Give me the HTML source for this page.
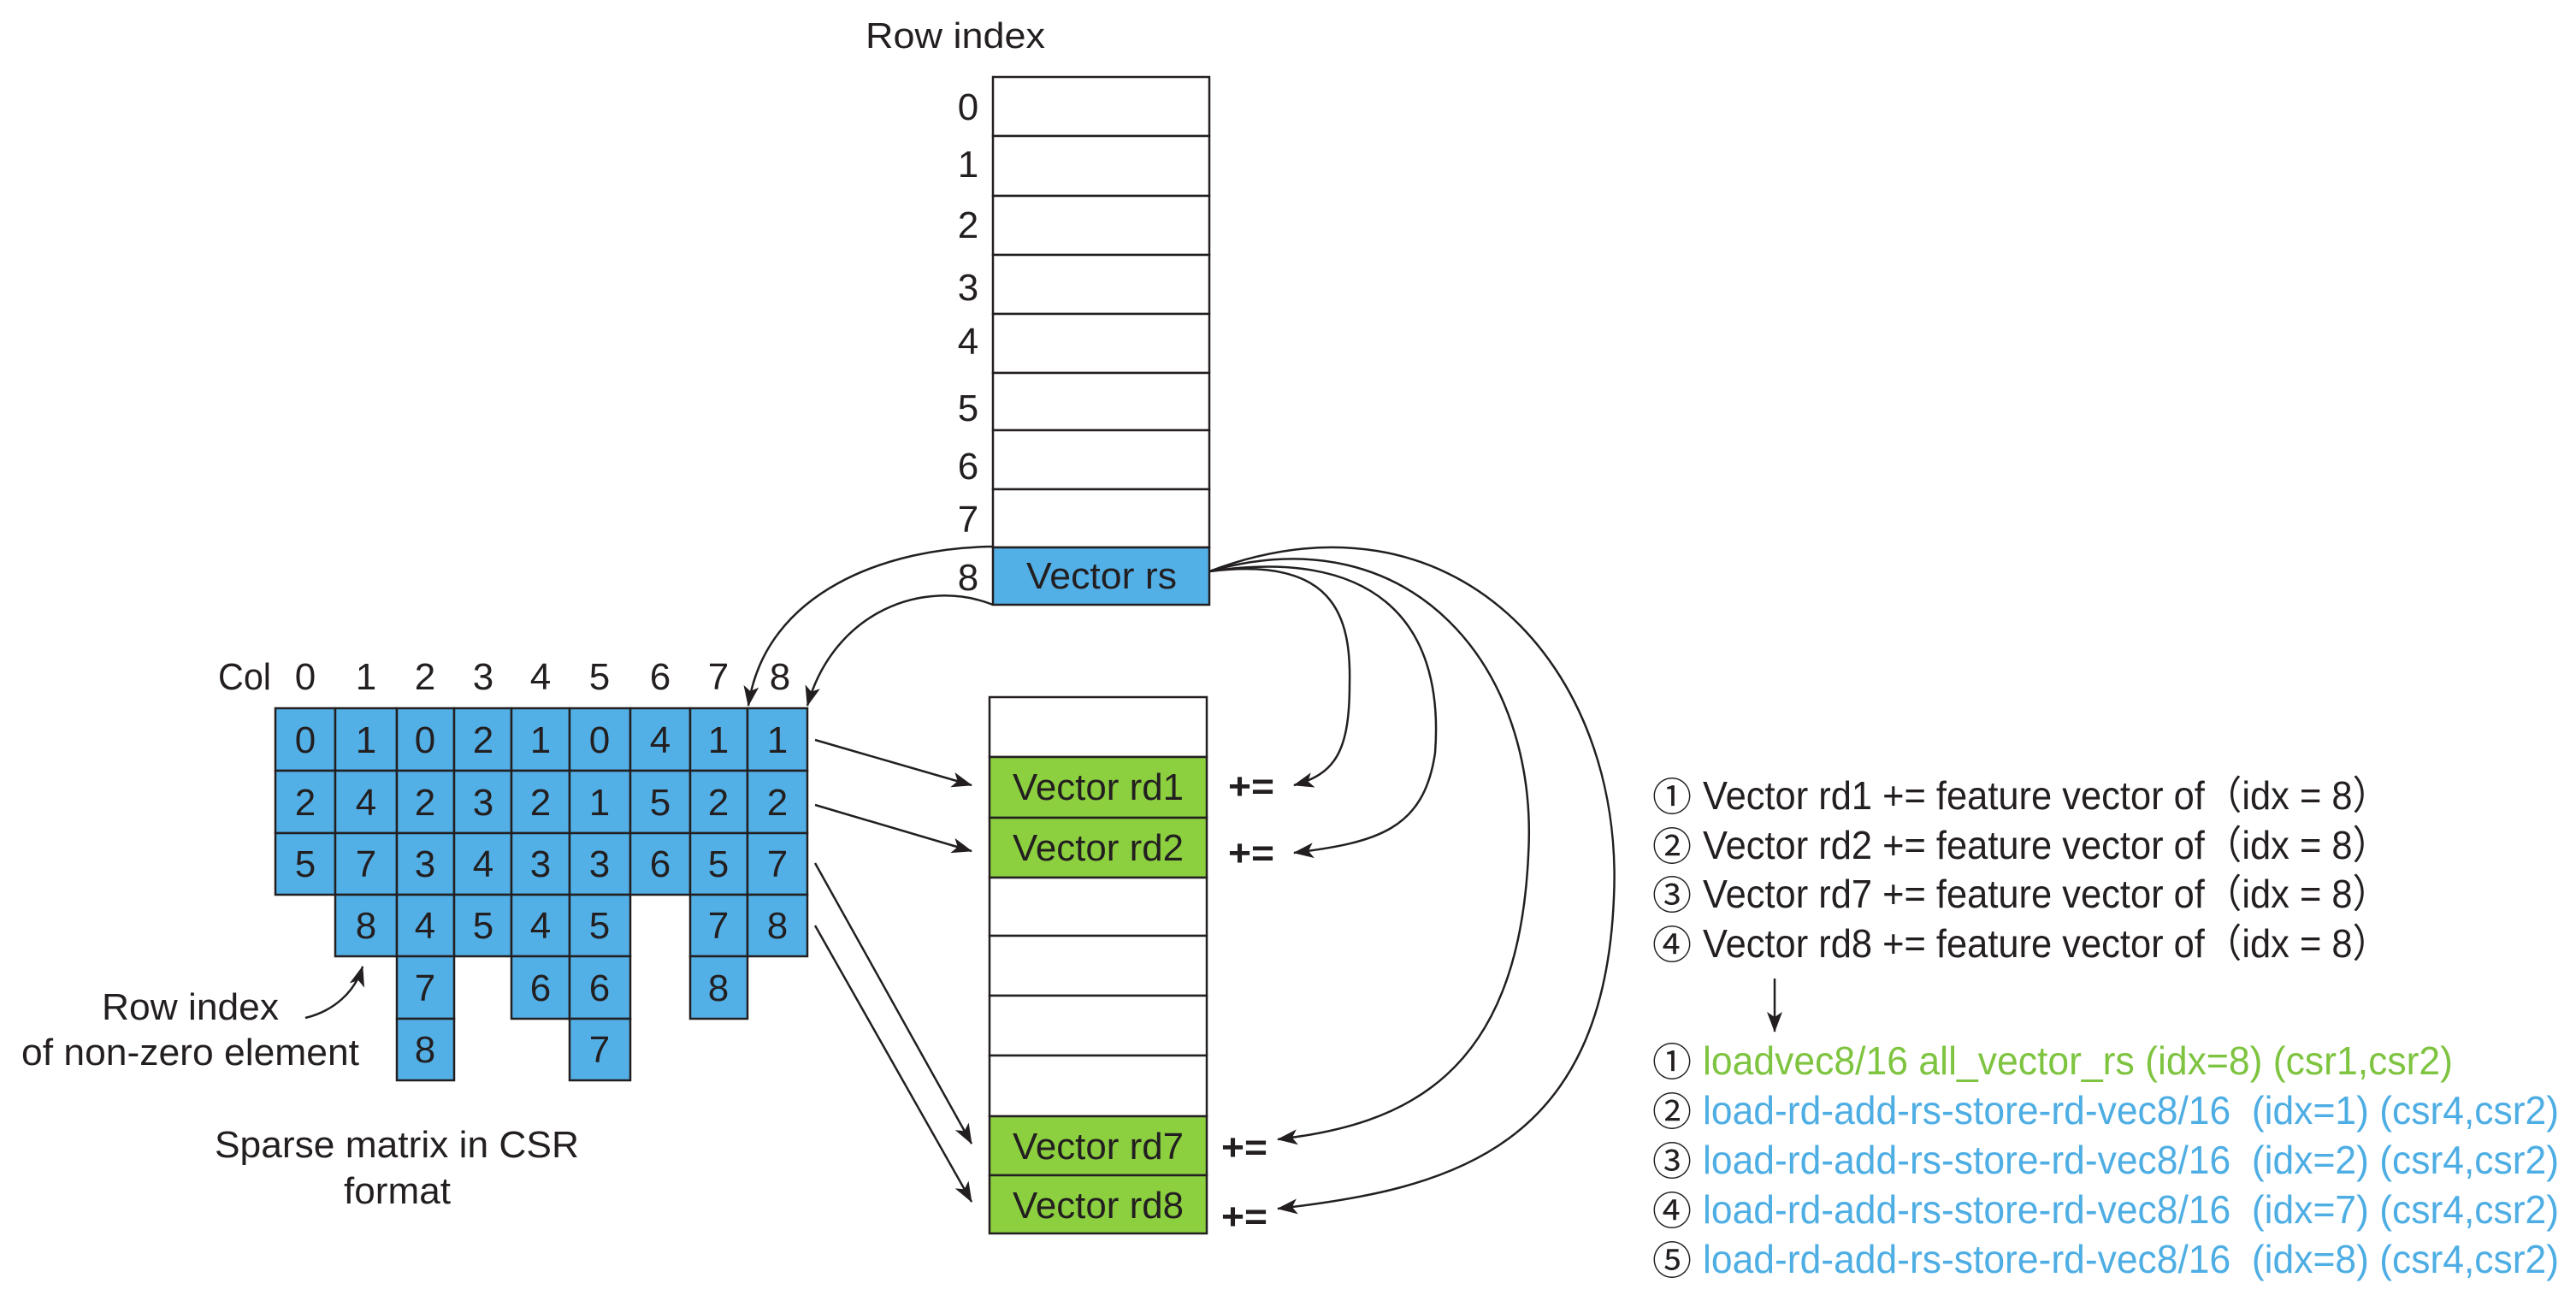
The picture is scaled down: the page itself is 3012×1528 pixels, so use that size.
<!DOCTYPE html>
<html><head><meta charset="utf-8"><style>html,body{margin:0;padding:0;background:#fff}svg{display:block}</style></head>
<body>
<svg width="3012" height="1528" viewBox="0 0 3012 1528" xmlns="http://www.w3.org/2000/svg" font-family="Liberation Sans, Arial, sans-serif" fill="#231f20">
<defs>
<marker id="ah" viewBox="0 0 24 18" refX="23" refY="9" markerWidth="24" markerHeight="18" markerUnits="userSpaceOnUse" orient="auto">
<path d="M0,0 L24,9 L0,18 L6,9 Z" fill="#231f20"/>
</marker>
</defs>

<!-- Row index table -->
<text x="1012" y="56" font-size="42" textLength="210" lengthAdjust="spacingAndGlyphs">Row index</text>
<g stroke="#231f20" stroke-width="2.5" fill="#fff">
<rect x="1161" y="90" width="253" height="69"/>
<rect x="1161" y="159" width="253" height="70"/>
<rect x="1161" y="229" width="253" height="69"/>
<rect x="1161" y="298" width="253" height="69"/>
<rect x="1161" y="367" width="253" height="69"/>
<rect x="1161" y="436" width="253" height="67"/>
<rect x="1161" y="503" width="253" height="69"/>
<rect x="1161" y="572" width="253" height="68"/>
<rect x="1161" y="640" width="253" height="67" fill="#52b0e6"/>
</g>
<g font-size="44" text-anchor="middle">
<text x="1132" y="140">0</text><text x="1132" y="207">1</text><text x="1132" y="278">2</text>
<text x="1132" y="351">3</text><text x="1132" y="414">4</text><text x="1132" y="492">5</text>
<text x="1132" y="560">6</text><text x="1132" y="622">7</text><text x="1132" y="690">8</text>
</g>
<text x="1288" y="688" font-size="44" text-anchor="middle" textLength="176" lengthAdjust="spacingAndGlyphs">Vector rs</text>

<!-- Lower table -->
<g stroke="#231f20" stroke-width="2.5" fill="#fff">
<rect x="1157" y="815" width="254" height="70"/>
<rect x="1157" y="885" width="254" height="71" fill="#8cd040"/>
<rect x="1157" y="956" width="254" height="70" fill="#8cd040"/>
<rect x="1157" y="1026" width="254" height="68"/>
<rect x="1157" y="1094" width="254" height="70"/>
<rect x="1157" y="1164" width="254" height="70"/>
<rect x="1157" y="1234" width="254" height="71"/>
<rect x="1157" y="1305" width="254" height="69" fill="#8cd040"/>
<rect x="1157" y="1374" width="254" height="68" fill="#8cd040"/>
</g>
<g font-size="44" text-anchor="middle">
<text x="1284" y="935" textLength="200" lengthAdjust="spacingAndGlyphs">Vector rd1</text>
<text x="1284" y="1006" textLength="200" lengthAdjust="spacingAndGlyphs">Vector rd2</text>
<text x="1284" y="1355" textLength="200" lengthAdjust="spacingAndGlyphs">Vector rd7</text>
<text x="1284" y="1424" textLength="200" lengthAdjust="spacingAndGlyphs">Vector rd8</text>
</g>
<g font-size="44" font-weight="bold">
<text x="1436" y="934" textLength="54" lengthAdjust="spacingAndGlyphs">+=</text>
<text x="1436" y="1012" textLength="54" lengthAdjust="spacingAndGlyphs">+=</text>
<text x="1428" y="1356" textLength="54" lengthAdjust="spacingAndGlyphs">+=</text>
<text x="1428" y="1437" textLength="54" lengthAdjust="spacingAndGlyphs">+=</text>
</g>

<!-- Matrix -->
<text x="255" y="806" font-size="44" textLength="62" lengthAdjust="spacingAndGlyphs">Col</text>
<g font-size="44" text-anchor="middle">
<text x="357" y="806">0</text><text x="428" y="806">1</text><text x="497" y="806">2</text>
<text x="565" y="806">3</text><text x="632" y="806">4</text><text x="701" y="806">5</text>
<text x="772" y="806">6</text><text x="840" y="806">7</text><text x="912" y="806">8</text>
</g>
<g stroke="#231f20" stroke-width="2.5" fill="#52b0e6">
<rect x="322" y="828" width="70" height="73"/><rect x="392" y="828" width="72" height="73"/><rect x="464" y="828" width="67" height="73"/><rect x="531" y="828" width="67" height="73"/><rect x="598" y="828" width="68" height="73"/><rect x="666" y="828" width="71" height="73"/><rect x="737" y="828" width="70" height="73"/><rect x="807" y="828" width="67" height="73"/><rect x="874" y="828" width="70" height="73"/>
<rect x="322" y="901" width="70" height="73"/><rect x="392" y="901" width="72" height="73"/><rect x="464" y="901" width="67" height="73"/><rect x="531" y="901" width="67" height="73"/><rect x="598" y="901" width="68" height="73"/><rect x="666" y="901" width="71" height="73"/><rect x="737" y="901" width="70" height="73"/><rect x="807" y="901" width="67" height="73"/><rect x="874" y="901" width="70" height="73"/>
<rect x="322" y="974" width="70" height="72"/><rect x="392" y="974" width="72" height="72"/><rect x="464" y="974" width="67" height="72"/><rect x="531" y="974" width="67" height="72"/><rect x="598" y="974" width="68" height="72"/><rect x="666" y="974" width="71" height="72"/><rect x="737" y="974" width="70" height="72"/><rect x="807" y="974" width="67" height="72"/><rect x="874" y="974" width="70" height="72"/>
<rect x="392" y="1046" width="72" height="72"/><rect x="464" y="1046" width="67" height="72"/><rect x="531" y="1046" width="67" height="72"/><rect x="598" y="1046" width="68" height="72"/><rect x="666" y="1046" width="71" height="72"/><rect x="807" y="1046" width="67" height="72"/><rect x="874" y="1046" width="70" height="72"/>
<rect x="464" y="1118" width="67" height="73"/><rect x="598" y="1118" width="68" height="73"/><rect x="666" y="1118" width="71" height="73"/><rect x="807" y="1118" width="67" height="73"/>
<rect x="464" y="1191" width="67" height="72"/><rect x="666" y="1191" width="71" height="72"/>
</g>
<g font-size="44" text-anchor="middle">
<text x="357" y="880">0</text><text x="428" y="880">1</text><text x="497" y="880">0</text><text x="565" y="880">2</text><text x="632" y="880">1</text><text x="701" y="880">0</text><text x="772" y="880">4</text><text x="840" y="880">1</text><text x="909" y="880">1</text>
<text x="357" y="953">2</text><text x="428" y="953">4</text><text x="497" y="953">2</text><text x="565" y="953">3</text><text x="632" y="953">2</text><text x="701" y="953">1</text><text x="772" y="953">5</text><text x="840" y="953">2</text><text x="909" y="953">2</text>
<text x="357" y="1025">5</text><text x="428" y="1025">7</text><text x="497" y="1025">3</text><text x="565" y="1025">4</text><text x="632" y="1025">3</text><text x="701" y="1025">3</text><text x="772" y="1025">6</text><text x="840" y="1025">5</text><text x="909" y="1025">7</text>
<text x="428" y="1097">8</text><text x="497" y="1097">4</text><text x="565" y="1097">5</text><text x="632" y="1097">4</text><text x="701" y="1097">5</text><text x="840" y="1097">7</text><text x="909" y="1097">8</text>
<text x="497" y="1170">7</text><text x="632" y="1170">6</text><text x="701" y="1170">6</text><text x="840" y="1170">8</text>
<text x="497" y="1242">8</text><text x="701" y="1242">7</text>
</g>

<!-- left labels -->
<text x="119" y="1192" font-size="44" textLength="207" lengthAdjust="spacingAndGlyphs">Row index</text>
<text x="25" y="1245" font-size="44" textLength="395" lengthAdjust="spacingAndGlyphs">of non-zero element</text>
<text x="251" y="1353" font-size="44" textLength="426" lengthAdjust="spacingAndGlyphs">Sparse matrix in CSR</text>
<text x="402" y="1407" font-size="44" textLength="125" lengthAdjust="spacingAndGlyphs">format</text>

<!-- connectors -->
<g stroke="#231f20" stroke-width="2.5" fill="none" marker-end="url(#ah)">
<path d="M357,1190 C390,1182 415,1160 424,1130"/>
<path d="M1161,639 C1040,640 895,690 875,825"/>
<path d="M1161,707 C1080,675 975,715 944,825"/>
<path d="M953,865 L1136,918"/>
<path d="M953,941 L1136,995"/>
<path d="M953,1009 L1136,1337"/>
<path d="M953,1082 L1136,1405"/>
<path d="M1414,668 C1560,650 1580,720 1578,800 C1578,880 1560,905 1513,918"/>
<path d="M1414,668 C1600,640 1690,720 1678,880 C1665,970 1610,985 1513,997"/>
<path d="M1414,668 C1650,600 1800,780 1787,1000 C1775,1260 1640,1315 1494,1332"/>
<path d="M1414,668 C1700,560 1900,780 1887,1050 C1875,1340 1700,1390 1494,1413"/>
<path d="M2075,1144 L2075,1206"/>
</g>

<!-- right text -->
<g font-family="Noto Sans CJK SC, DejaVu Sans, sans-serif" font-size="46">
<text x="1932" y="948">①</text><text x="1932" y="1006">②</text><text x="1932" y="1063">③</text><text x="1932" y="1121">④</text>
<text x="1932" y="1258">①</text><text x="1932" y="1316">②</text><text x="1932" y="1374">③</text><text x="1932" y="1432">④</text><text x="1932" y="1490">⑤</text>
</g>
<g font-size="46">
<text x="1991" y="946" textLength="803" lengthAdjust="spacingAndGlyphs">Vector rd1 += feature vector of（idx = 8）</text>
<text x="1991" y="1004" textLength="803" lengthAdjust="spacingAndGlyphs">Vector rd2 += feature vector of（idx = 8）</text>
<text x="1991" y="1061" textLength="803" lengthAdjust="spacingAndGlyphs">Vector rd7 += feature vector of（idx = 8）</text>
<text x="1991" y="1119" textLength="803" lengthAdjust="spacingAndGlyphs">Vector rd8 += feature vector of（idx = 8）</text>
<text x="1991" y="1256" fill="#7ec440" textLength="877" lengthAdjust="spacingAndGlyphs">loadvec8/16 all_vector_rs (idx=8) (csr1,csr2)</text>
<text x="1991" y="1314" fill="#4eaee4" textLength="1001" lengthAdjust="spacingAndGlyphs" xml:space="preserve">load-rd-add-rs-store-rd-vec8/16  (idx=1) (csr4,csr2)</text>
<text x="1991" y="1372" fill="#4eaee4" textLength="1001" lengthAdjust="spacingAndGlyphs" xml:space="preserve">load-rd-add-rs-store-rd-vec8/16  (idx=2) (csr4,csr2)</text>
<text x="1991" y="1430" fill="#4eaee4" textLength="1001" lengthAdjust="spacingAndGlyphs" xml:space="preserve">load-rd-add-rs-store-rd-vec8/16  (idx=7) (csr4,csr2)</text>
<text x="1991" y="1488" fill="#4eaee4" textLength="1001" lengthAdjust="spacingAndGlyphs" xml:space="preserve">load-rd-add-rs-store-rd-vec8/16  (idx=8) (csr4,csr2)</text>
</g>
</svg>
</body></html>
